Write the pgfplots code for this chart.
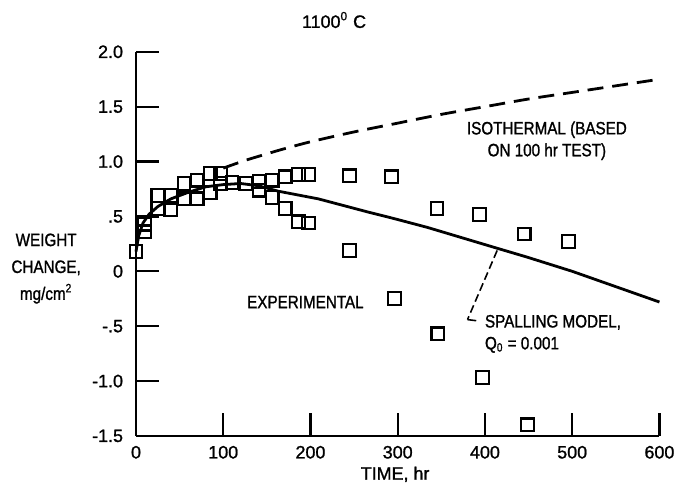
\documentclass[border=0pt]{standalone}
\usepackage{pgfplots}
\pgfplotsset{compat=1.18}
\usepackage{fontspec}
\setmainfont{Liberation Sans}[FakeStretch=0.85, FakeBold=1.2]
\newfontfamily\widefont{Liberation Sans}[FakeBold=1.2]
\begin{document}
\begin{tikzpicture}[font=\fontsize{9}{11}\selectfont]
\begin{axis}[
  scale only axis, width=263pt, height=193pt,
  xmin=0, xmax=600, ymin=-1.5, ymax=2,
  axis x line*=bottom, axis y line*=left,
  axis line style={line width=1.2pt},
  tick align=inside, major tick length=11.5pt,
  tick style={line width=1.1pt, black},
  xtick={0,100,200,300,400,500,600},
  ytick={-1.5,-1,-0.5,0,0.5,1,1.5,2},
  xticklabels={0,100,200,300,400,500,600},
  yticklabels={-1.5,-1.0,-.5,0,.5,1.0,1.5,2.0},
  tick label style={font=\widefont\fontsize{9}{11}\selectfont},
  xticklabel style={yshift=-1.5pt},
  yticklabel style={xshift=-3pt},
  /pgf/number format/assume math mode=true,
  clip=false,
]
\addplot[only marks, mark=square, mark size=3.2pt, mark options={line width=1.1pt, black}] table {
t w
0 0.18
10 0.43
10 0.36
25 0.69
25 0.57
40 0.69
40 0.56
55 0.80
55 0.66
70 0.83
70 0.66
85 0.89
85 0.72
97 0.89
97 0.80
110 0.81
126 0.80
141 0.82
141 0.74
156 0.83
156 0.67
171 0.86
171 0.57
186 0.88
186 0.45
198 0.88
198 0.44
245 0.87
245 0.19
293 0.86
296 -0.25
345 0.57
346 -0.57
394 0.52
397 -0.97
445 0.34
449 -1.40
496 0.27
};
\addplot[black, line width=1.4pt, no markers] coordinates {
(0,0.18) (3,0.32) (8,0.44) (15,0.52) (25,0.59) (40,0.66) (60,0.72) (80,0.77)
(100,0.79) (120,0.80) (140,0.78) (163,0.73) (209,0.66) (266,0.54) (296,0.48)
(334,0.40) (414,0.21) (448,0.13) (500,0.00) (550,-0.14) (600,-0.28)
};
\addplot[black, line width=1.4pt, no markers, smooth, dash pattern=on 8pt off 4.5pt] coordinates {
(100,0.94) (125,1.01) (150,1.07) (167,1.11) (200,1.18) (250,1.27) (300,1.35)
(350,1.43) (400,1.50) (450,1.57) (500,1.63) (550,1.69) (600,1.75)
};
\draw[line width=0.8pt, dash pattern=on 4pt off 2pt] (axis cs:414,0.19) -- (axis cs:380,-0.44);
\draw[line width=0.8pt] (axis cs:380,-0.44) -- (axis cs:390,-0.45);
\node[align=center] at (axis cs:471,1.19) {ISOTHERMAL (BASED\\ON 100 hr TEST)};
\node[anchor=west, align=left] at (axis cs:392,-0.57) {SPALLING MODEL,\\Q\textsubscript{0} = 0.001};
\node[anchor=east] at (axis cs:269,-0.28) {EXPERIMENTAL};
\node[align=center, font=\fontsize{9}{13.5}\selectfont] at (axis cs:-103,0.025) {WEIGHT\\CHANGE,\\mg/cm\textsuperscript{2}};
\node[font=\widefont\fontsize{9}{11}\selectfont] at (axis cs:297,-1.85) {TIME, hr};
\node[font=\widefont\fontsize{9}{11}\selectfont] at (axis cs:227,2.29) {1100\textsuperscript{0} C};
\path (axis cs:-155.9,2.472) rectangle (axis cs:620.6,-1.988);
\end{axis}
\end{tikzpicture}
\end{document}
